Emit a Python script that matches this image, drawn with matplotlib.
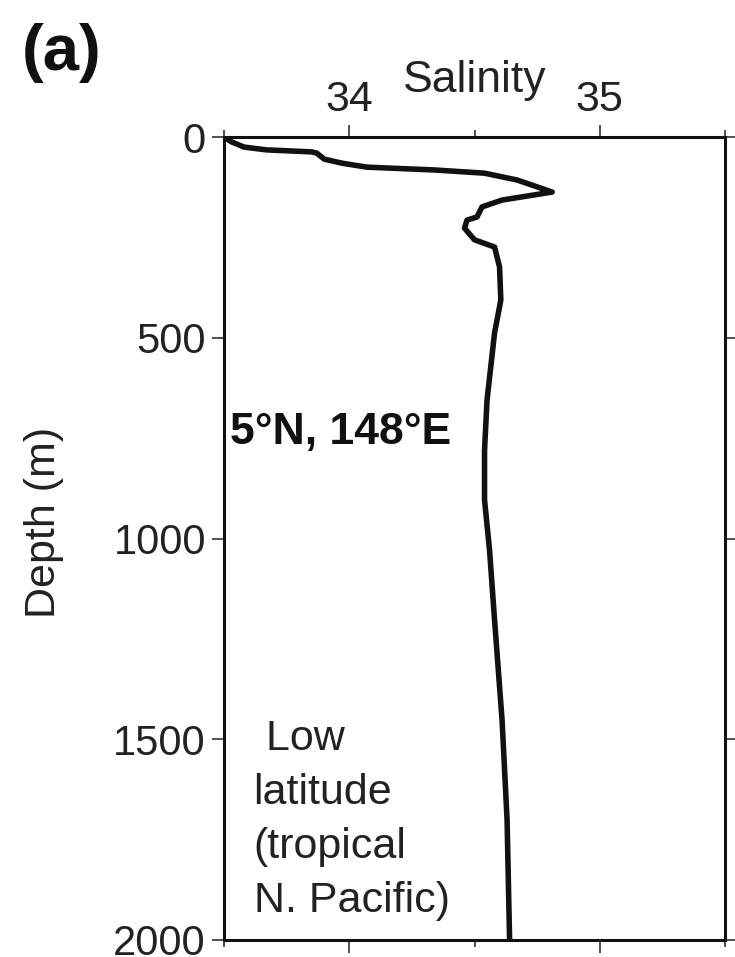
import numpy as np
import matplotlib.pyplot as plt
from matplotlib.ticker import FixedLocator

plt.rcParams['font.family'] = ['Liberation Sans', 'DejaVu Sans']

# salinity profile, 5N 148E
depth = [0, 12, 25, 32, 37, 40, 55, 65, 75, 82, 90, 107, 137, 157, 174, 199, 207,
         227, 256, 274, 324, 406, 488, 655, 780, 904, 1029, 1203, 1452, 1701, 2000]
salinity = [33.50, 33.53, 33.58, 33.67, 33.85, 33.87, 33.90, 33.97, 34.07, 34.34, 34.54,
            34.67, 34.81, 34.61, 34.53, 34.51, 34.47, 34.46, 34.50, 34.58, 34.60,
            34.605, 34.58, 34.55, 34.54, 34.54, 34.56, 34.58, 34.61, 34.63, 34.64]

sal_major = [34, 35]
sal_minor = [33.5, 34.5, 35.5]
depth_ticks = [0, 500, 1000, 1500, 2000]

fig = plt.figure(figsize=(7.35, 9.57), dpi=100)
ax = fig.add_axes([0.3048, 0.0178, 0.6816, 0.839])

ax.plot(salinity, depth, color='#111111', lw=4.0, solid_joinstyle='round')

ax.set_xlim(33.5, 35.5)
ax.set_ylim(2000, 0)
ax.xaxis.set_major_locator(FixedLocator(sal_major))
ax.xaxis.set_minor_locator(FixedLocator(sal_minor))
ax.yaxis.set_major_locator(FixedLocator(depth_ticks))

ax.tick_params(axis='both', which='both', direction='out', top=True, right=True,
               bottom=True, left=True, labeltop=True, labelbottom=False,
               labelleft=True, labelright=False, width=1.1, color='#222222')
ax.tick_params(axis='x', which='major', length=9, pad=3, labelsize=31)
ax.tick_params(axis='x', which='minor', length=5)
ax.tick_params(axis='y', which='major', length=9, pad=4, labelsize=30)
for lab in ax.get_xticklabels() + ax.get_yticklabels():
    lab.set_color('#222222')

for sp in ax.spines.values():
    sp.set_linewidth(2.2)
    sp.set_color('#111111')

ax.xaxis.set_label_position('top')
ax.set_xlabel('Salinity', fontsize=32, color='#222222')
ax.xaxis.set_label_coords(0.5, 1.045)
ax.xaxis.label.set_va('bottom')
ax.set_ylabel('Depth (m)', fontsize=31, color='#222222')
ax.yaxis.set_label_coords(-0.32, 0.52)

ax.text(33.525, 737, '5°N, 148°E', fontsize=32, fontweight='bold',
        ha='left', va='center', color='#111111')
ax.text(33.618, 1450, ' Low\nlatitude\n(tropical\nN. Pacific)', fontsize=31,
        ha='left', va='top', linespacing=1.45, color='#222222')

fig.text(0.03, 0.945, '(a)', fontsize=47, fontweight='bold', ha='left',
         va='center', color='#111111')

fig.savefig('out.png', dpi=100)
